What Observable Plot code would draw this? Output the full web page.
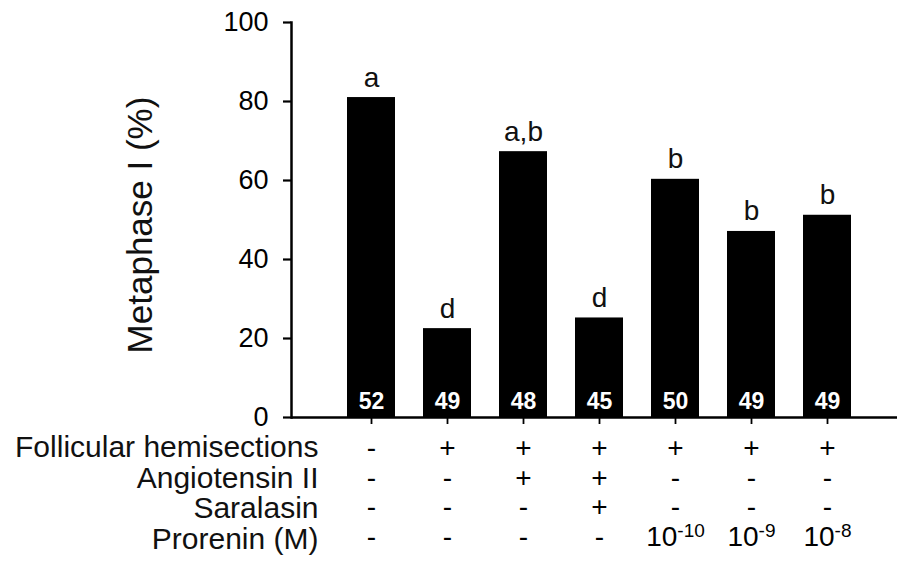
<!DOCTYPE html>
<html>
<head>
<meta charset="utf-8">
<script src="https://cdn.jsdelivr.net/npm/d3@7"></script>
<script src="https://cdn.jsdelivr.net/npm/@observablehq/plot@0.6"></script>
<style>
  html, body { margin: 0; padding: 0; background: #fff; overflow: hidden; }
  #chart svg { display: block; }
</style>
</head>
<body>
<div id="chart"></div>
<script>
// ---- data ----
const follicular = ["-", "+", "+", "+", "+", "+", "+"];
const angiotensin = ["-", "-", "+", "+", "-", "-", "-"];
const saralasin   = ["-", "-", "-", "+", "-", "-", "-"];
const prorenin    = ["-", "-", "-", "-", "10⁻¹⁰", "10⁻⁹", "10⁻⁸"];
const metaphase   = [81, 22.5, 67.3, 25.2, 60.3, 47.1, 51.2];
const letters     = ["a", "d", "a,b", "d", "b", "b", "b"];
const nOocytes    = [52, 49, 48, 45, 50, 49, 49];
const rowLabels   = ["Follicular hemisections", "Angiotensin II", "Saralasin", "Prorenin (M)"];
const yTicks      = [0, 20, 40, 60, 80, 100];
const yLabel      = "Metaphase I (%)";

const columns = follicular.map((f, i) => [f, angiotensin[i], saralasin[i], prorenin[i]].join("\n"));
const data = columns.map((c, i) => ({col: c, value: metaphase[i], letter: letters[i], n: nOocytes[i]}));

const chart = Plot.plot({
  width: 897,
  height: 563,
  marginTop: 22,
  marginBottom: 146,
  marginLeft: 291,
  marginRight: 0,
  style: {fontFamily: "'Liberation Sans', Arial, sans-serif", color: "#000", background: "#fff"},
  x: {domain: columns, paddingInner: 0.364, paddingOuter: 0.62, align: 0.55, label: null},
  y: {domain: [0, 100], label: null},
  marks: [
    Plot.barY(data, {x: "col", y: "value", fill: "#000"}),
    Plot.text(data, {x: "col", y: "value", text: "letter", lineAnchor: "bottom", dy: -11, fontSize: 28, fill: "#111"}),
    Plot.text(data, {x: "col", text: "n", frameAnchor: "bottom", lineAnchor: "bottom", dy: -9, fill: "#fff", fontWeight: "bold", fontSize: 23}),
    Plot.axisY({ticks: yTicks, tickSize: 8, tickPadding: 15, fontSize: 27, strokeWidth: 2.2, label: null, tickFormat: d => String(d)}),
    Plot.axisX({tickSize: 7, tickPadding: 12, fontSize: 28, lineHeight: 1.05, strokeWidth: 1.8, label: null, tickFormat: d => d}),
    Plot.frame({anchor: "left", strokeWidth: 2.5}),
    Plot.ruleY([0], {strokeWidth: 2.5}),
    Plot.text([rowLabels.join("\n")], {frameAnchor: "bottom-left", textAnchor: "end", lineAnchor: "top", lineHeight: 1.02, dx: 27, dy: 18, fontSize: 30, fill: "#111"}),
    Plot.text([yLabel], {frameAnchor: "left", rotate: -90, textAnchor: "middle", lineAnchor: "middle", dx: -151, dy: 5, fontSize: 35, fill: "#111"})
  ]
});

// render Unicode superscript exponents as raised, smaller real text
const supMap = {"⁻": "-", "⁰": "0", "¹": "1", "²": "2", "³": "3", "⁴": "4", "⁵": "5", "⁶": "6", "⁷": "7", "⁸": "8", "⁹": "9"};
d3.select(chart).selectAll("text, tspan").each(function () {
  if (this.childElementCount) return;
  const t = this.textContent;
  const m = t.match(/^(\d+)([⁻⁰¹²³⁴⁵⁶⁷⁸⁹]+)$/);
  if (!m) return;
  this.textContent = m[1];
  const s = document.createElementNS("http://www.w3.org/2000/svg", "tspan");
  s.setAttribute("dy", "-0.45em");
  s.setAttribute("font-size", "0.68em");
  s.textContent = [...m[2]].map(c => supMap[c]).join("");
  this.appendChild(s);
});

document.getElementById("chart").appendChild(chart);
</script>
</body>
</html>
